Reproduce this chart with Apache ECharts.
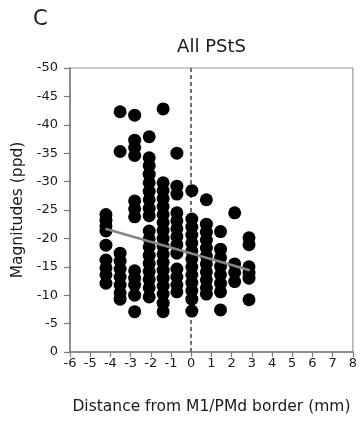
<!DOCTYPE html>
<html>
<head>
<meta charset="utf-8">
<script src="https://cdn.jsdelivr.net/npm/echarts@6/dist/echarts.min.js"></script>
<style>
html,body{margin:0;padding:0;background:#fff;}
#chart{width:360px;height:423px;}
</style>
</head>
<body>
<div id="chart"></div>
<script>
// Column positions (mm from M1/PMd border)
const columnX = [-4.22, -3.52, -2.8, -2.08, -1.39, -0.71, 0.03, 0.75, 1.45, 2.15, 2.86];
// Magnitudes (ppd) for each column
const colA = [-24.2, -23.2, -22.2, -21.3, -18.8, -16.2, -14.8, -13.6, -12.1];
const colB = [-42.3, -35.3, -17.4, -16.0, -14.6, -13.2, -11.8, -10.4, -9.3];
const colC = [-41.7, -37.3, -36.0, -34.6, -26.6, -25.2, -23.8, -14.3, -13.0, -11.8, -10.0, -7.1];
const colD = [-37.9, -34.2, -32.8, -31.3, -29.8, -28.3, -26.8, -25.3, -24.0, -21.3, -19.9, -18.5, -17.0, -15.6, -14.2, -12.8, -11.3, -9.7];
const colE = [-42.8, -29.8, -28.4, -27.0, -25.6, -24.2, -22.8, -21.4, -20.0, -18.6, -17.2, -15.8, -14.4, -13.0, -11.6, -10.2, -8.6, -7.1];
const colF = [-35.0, -29.2, -27.8, -24.5, -23.1, -21.7, -20.3, -18.9, -17.4, -14.6, -13.2, -11.8, -10.6];
const colG = [-28.4, -23.4, -22.0, -20.6, -19.2, -17.8, -16.4, -15.0, -13.6, -12.2, -10.8, -9.3, -7.2];
const colH = [-26.8, -22.5, -21.1, -19.7, -18.3, -16.9, -15.5, -14.1, -12.7, -11.3, -10.2];
const colI = [-21.2, -18.1, -16.6, -15.1, -13.6, -12.1, -10.6, -7.4];
const colJ = [-24.5, -15.5, -14.0, -12.4];
const colK = [-20.1, -18.9, -15.0, -13.9, -13.0, -9.2];
const columnValues = [colA, colB, colC, colD, colE, colF, colG, colH, colI, colJ, colK];
// Regression line end points [x, y]
const fitX = [-4.25, 2.9];
const fitY = [-21.7, -14.4];
// Axis ticks
const xTicks = {min: -6, max: 8, step: 1};
const yTicks = {min: -50, max: 0, step: 5};

const points = [];
columnValues.forEach((vals, i) => vals.forEach(v => points.push([columnX[i], v])));
const fitLine = fitX.map((x, i) => [x, fitY[i]]);

const FONT = 'DejaVu Sans';
const TXT = '#1a1a1a';
const AX = '#7a7a7a';

const chart = echarts.init(document.getElementById('chart'), null, {renderer: 'canvas'});
chart.setOption({
  animation: false,
  backgroundColor: '#fff',
  textStyle: {fontFamily: FONT},
  grid: {left: 70, right: 7, top: 68, bottom: 71, show: true, borderColor: '#9a9a9a', borderWidth: 1.2, backgroundColor: 'transparent'},
  graphic: [
    {type: 'text', left: 33, top: 9, style: {text: 'C', fontFamily: FONT, fontSize: 21, fill: TXT}},
    {type: 'text', x: 211.5, y: 47, style: {text: 'All PStS', fontFamily: FONT, fontSize: 18, fill: TXT, textAlign: 'center', textVerticalAlign: 'middle'}}
  ],
  xAxis: {
    type: 'value', min: xTicks.min, max: xTicks.max, interval: xTicks.step,
    name: 'Distance from M1/PMd border (mm)', nameLocation: 'middle', nameGap: 47,
    nameTextStyle: {fontFamily: FONT, fontSize: 15.5, color: TXT},
    axisLine: {show: true, onZero: false, lineStyle: {color: AX, width: 1.5}},
    axisTick: {show: true, inside: false, length: 5, lineStyle: {color: AX, width: 1.2}},
    axisLabel: {margin: 5, fontFamily: FONT, fontSize: 13, color: TXT},
    splitLine: {show: false}
  },
  yAxis: {
    type: 'value', min: yTicks.min, max: yTicks.max, interval: yTicks.step, inverse: true,
    name: 'Magnitudes (ppd)', nameLocation: 'middle', nameGap: 40,
    nameTextStyle: {fontFamily: FONT, fontSize: 15.5, color: TXT},
    axisLine: {show: true, onZero: false, lineStyle: {color: AX, width: 1.5}},
    axisTick: {show: true, inside: false, length: 6, lineStyle: {color: AX, width: 1.2}},
    axisLabel: {margin: 12, fontFamily: FONT, fontSize: 13, color: TXT},
    splitLine: {show: false}
  },
  series: [
    {
      type: 'scatter', data: points, symbol: 'circle', symbolSize: 13,
      itemStyle: {color: '#000', opacity: 1}, z: 3,
      markLine: {
        silent: true, symbol: ['none', 'none'], label: {show: false},
        lineStyle: {color: '#707070', width: 2, type: [4, 3]},
        data: [{xAxis: 0}], z: 2
      }
    },
    {
      type: 'line', data: fitLine, symbol: 'none', z: 4,
      lineStyle: {color: '#858585', width: 2.5}
    }
  ]
});
</script>
</body>
</html>
